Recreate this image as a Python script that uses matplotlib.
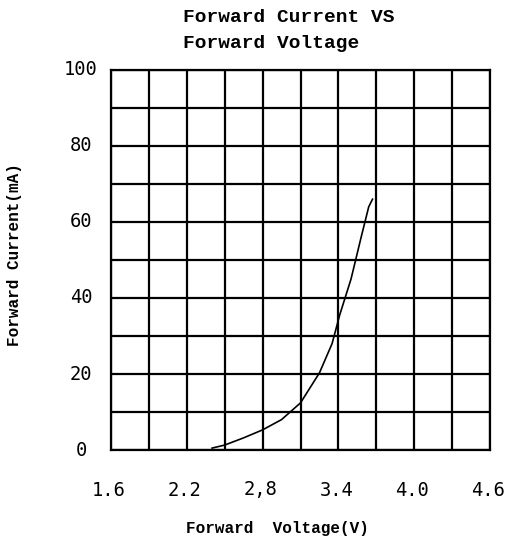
import matplotlib
matplotlib.use("Agg")
import matplotlib.pyplot as plt
import numpy as np

# curve: forward voltage (V) vs forward current (mA)
voltage = [2.40, 2.50, 2.65, 2.80, 2.95, 3.10, 3.25, 3.35, 3.41, 3.50, 3.58, 3.64, 3.67]
current = [0.5, 1.3, 3.2, 5.3, 8.0, 12.4, 20.3, 28.0, 35.5, 45.0, 56.0, 64.0, 66.0]

x_ticks = [1.6, 2.2, 2.8, 3.4, 4.0, 4.6]
x_tick_labels = ["1.6", "2.2", "2,8", "3.4", "4.0", "4.6"]
y_ticks = [0, 20, 40, 60, 80, 100]

W, H = 511, 542
fig = plt.figure(figsize=(W / 100, H / 100), dpi=100)
ax = fig.add_axes([111 / W, 1 - 450 / H, (490 - 111) / W, (450 - 70) / H])

ax.plot(voltage, current, color="black", lw=1.2)

ax.set_xlim(1.6, 4.6)
ax.set_ylim(0, 100)

# grid: 10 columns of 0.3 V, 10 rows of 10 mA
ax.set_xticks(np.arange(1.6, 4.61, 0.3))
ax.set_yticks(np.arange(0, 101, 10))
ax.grid(True, color="black", lw=1.6)
ax.tick_params(length=0, labelbottom=False, labelleft=False)
for s in ax.spines.values():
    s.set_linewidth(1.6)

mono = "DejaVu Sans Mono"
for v, lab in zip(x_ticks, x_tick_labels):
    ax.annotate(lab, xy=(v, 0), xycoords="data", xytext=(-2, -40),
                textcoords="offset pixels", ha="center", va="center",
                fontsize=13.5, family=mono)
for v in y_ticks:
    ax.annotate(str(v), xy=(1.6, v), xycoords="data", xytext=(-30, 0),
                textcoords="offset pixels", ha="center", va="center",
                fontsize=13.5, family=mono)

tfont = dict(family="Liberation Mono", fontweight="bold")
fig.text(183 / W, 1 - 18 / H, "Forward Current VS", ha="left", va="center",
         fontsize=14, **tfont)
fig.text(183 / W, 1 - 44 / H, "Forward Voltage", ha="left", va="center",
         fontsize=14, **tfont)
fig.text(277 / W, 1 - 528 / H, "Forward  Voltage(V)", ha="center", va="center",
         fontsize=11.5, **tfont)
fig.text(15 / W, 1 - 255 / H, "Forward Current(mA)", ha="center", va="center",
         rotation=90, fontsize=11.5, **tfont)

fig.savefig("out.png", dpi=100)
